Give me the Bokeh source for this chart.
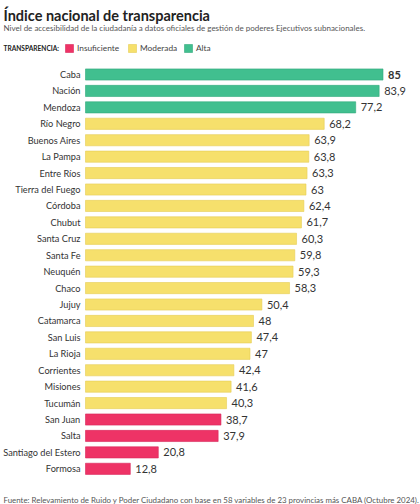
from bokeh.plotting import figure
from bokeh.models import ColumnDataSource, Range1d, Label, Legend, LegendItem
from bokeh.embed import file_html
from bokeh.resources import INLINE
from bokeh.core.properties import value

categories = ["Caba", "Nación", "Mendoza", "Río Negro", "Buenos Aires", "La Pampa",
              "Entre Ríos", "Tierra del Fuego", "Córdoba", "Chubut", "Santa Cruz",
              "Santa Fe", "Neuquén", "Chaco", "Jujuy", "Catamarca", "San Luis",
              "La Rioja", "Corrientes", "Misiones", "Tucumán", "San Juan", "Salta",
              "Santiago del Estero", "Formosa"]
values = [85, 83.9, 77.2, 68.2, 63.9, 63.8, 63.3, 63, 62.4, 61.7, 60.3, 59.8, 59.3,
          58.3, 50.4, 48, 47.4, 47, 42.4, 41.6, 40.3, 38.7, 37.9, 20.8, 12.8]
levels = ["Alta"] * 3 + ["Moderada"] * 18 + ["Insuficiente"] * 4
level_order = ["Insuficiente", "Moderada", "Alta"]
level_fill = {"Insuficiente": "#ee3366", "Moderada": "#f6e06c", "Alta": "#41bf8f"}
level_line = {"Insuficiente": "#d9275a", "Moderada": "#e6cd55", "Alta": "#31a97c"}

title = "Índice nacional de transparencia"
subtitle = "Nivel de accesibilidad de la ciudadanía a datos oficiales de gestión de poderes Ejecutivos subnacionales."
legend_title = "TRANSPARENCIA:"
source_text = "Fuente: Relevamiento de Ruido y Poder Ciudadano con base en 58 variables de 23 provincias más CABA (Octubre 2024)."

FONT = "Lato"
W, H = 420, 504
X0 = 85          # px where bars start
XS = 3.5         # px per unit
Y0 = 74          # px of first bar centre (from top)
YS = 16.43       # px per row
LEGEND_X = {"Insuficiente": 64, "Moderada": 127, "Alta": 183}

def fmt(v):
    s = ("%.1f" % v).rstrip("0").rstrip(".")
    return s.replace(".", ",")

idx = list(range(len(categories)))
p = figure(width=W, height=H, output_backend="svg", toolbar_location=None,
           x_range=Range1d(-X0 / XS, (W - X0) / XS),
           y_range=Range1d((H - Y0) / YS, -Y0 / YS),
           min_border=0, min_border_left=0, min_border_right=0,
           min_border_top=0, min_border_bottom=0)
p.axis.visible = False
p.grid.visible = False
p.outline_line_color = None
p.background_fill_color = "white"

for lv in level_order:
    sel = [i for i in idx if levels[i] == lv]
    src = ColumnDataSource(dict(y=sel, v=[values[i] for i in sel]))
    r = p.hbar(y="y", left=0, right="v", height=0.68, source=src,
               fill_color=level_fill[lv], line_color=level_line[lv], line_width=0.6)
    lg = Legend(items=[LegendItem(label=lv, renderers=[r])], orientation="horizontal",
                location=(LEGEND_X[lv], H - 53),
                label_text_font=FONT, label_text_font_size="8.3px",
                label_text_color="#444444", label_standoff=3,
                label_height=10, glyph_width=10, glyph_height=10, spacing=0,
                padding=0, margin=0, border_line_color=None,
                background_fill_alpha=0)
    p.add_layout(lg)

lab_src = ColumnDataSource(dict(
    y=idx, v=values, cat=categories, txt=[fmt(v) for v in values],
    weight=["bold" if i == 0 else "normal" for i in idx]))
p.text(x=0, y="y", text="cat", source=lab_src, x_offset=-5, text_align="right",
       text_baseline="middle", text_font=value(FONT), text_font_size="9.2px",
       text_color="#333333")
p.text(x="v", y="y", text="txt", source=lab_src, x_offset=5, text_align="left",
       text_baseline="middle", text_font=value(FONT), text_font_size="11px",
       text_font_style="weight", text_color="#333333")

p.add_layout(Label(x=3, y=H - 14.5, x_units="screen", y_units="screen", text=title,
                   text_font=FONT, text_font_size="14.5px", text_font_style="bold",
                   text_color="#222222", text_baseline="alphabetic"))
p.add_layout(Label(x=3, y=H - 27.5, x_units="screen", y_units="screen", text=subtitle,
                   text_font=FONT, text_font_size="8px", text_color="#555555",
                   text_baseline="alphabetic"))
p.add_layout(Label(x=3, y=H - 47.5, x_units="screen", y_units="screen", text=legend_title,
                   text_font=FONT, text_font_size="6.6px", text_font_style="bold",
                   text_color="#222222", text_baseline="middle"))
p.add_layout(Label(x=3, y=H - 499, x_units="screen", y_units="screen", text=source_text,
                   text_font=FONT, text_font_size="7.9px", text_color="#555555",
                   text_baseline="alphabetic"))

open("out.html", "w").write(file_html(p, INLINE))
